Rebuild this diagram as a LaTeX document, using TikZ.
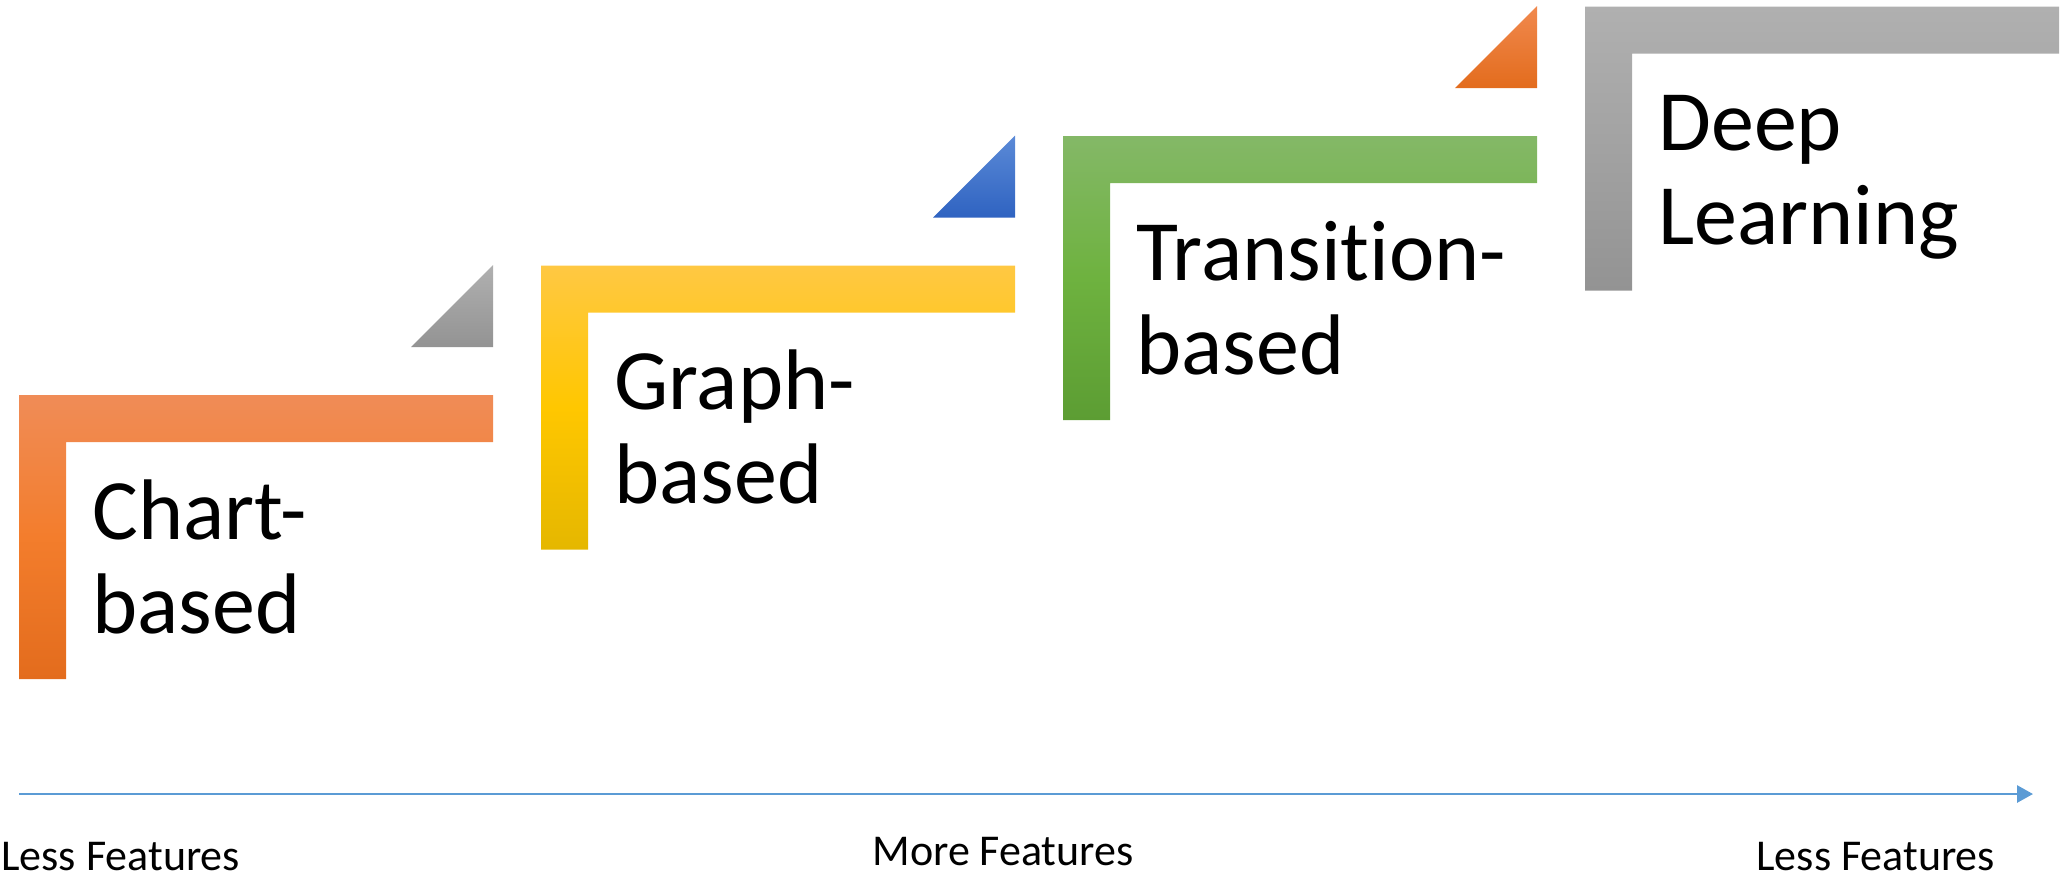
\documentclass[tikz,border=0pt]{standalone}
\usepackage{fontspec}
\setmainfont[Ligatures=NoCommon]{Carlito}
\usetikzlibrary{arrows.meta}

% fill gradients for the step frames and their corner flags
\definecolor{orTop}{HTML}{F08C57}
\definecolor{orMid}{HTML}{F37D2C}
\definecolor{orBot}{HTML}{E36C1D}
\definecolor{yeTop}{HTML}{FFC843}
\definecolor{yeMid}{HTML}{FFC700}
\definecolor{yeBot}{HTML}{E5B700}
\definecolor{grTop}{HTML}{84B867}
\definecolor{grMid}{HTML}{6EB23F}
\definecolor{grBot}{HTML}{5C9D33}
\definecolor{gyTop}{HTML}{B0B0B0}
\definecolor{gyMid}{HTML}{A2A2A2}
\definecolor{gyBot}{HTML}{939393}
\definecolor{blTop}{HTML}{5B8AD7}
\definecolor{blBot}{HTML}{2F63C1}
\definecolor{axisblue}{HTML}{5B9BD5}

% L-shaped step frame: #1,#2 = top-left corner, #3-#5 = top/middle/bottom colour
\newcommand\stepframe[5]{%
  \shade[top color=#3, bottom color=#5, middle color=#4]
    (#1,#2) -- ++(474,0) -- ++(0,47) -- ++(-427,0) -- ++(0,237) -- ++(-47,0) -- cycle;}
% right-angled flag above a frame's right end: #1,#2 = frame corner, #3/#4 = colours
\newcommand\stepflag[4]{%
  \shade[top color=#3, bottom color=#4]
    (#1+392,#2-48) -- ++(82,0) -- ++(0,-82) -- cycle;}

% two-line labels are placed by the baseline of their second line
\tikzset{
  steplabel/.style={anchor=base west, inner sep=0pt, align=left,
    font=\fontsize{43}{47}\selectfont},
  axislabel/.style={anchor=base west, inner sep=0pt,
    font=\fontsize{22}{26}\selectfont},
}

\begin{document}
\begin{tikzpicture}[x=0.5pt,y=-0.5pt]
\useasboundingbox (0,0) rectangle (2064,879);

% frames
\stepframe{19}{395}{orTop}{orMid}{orBot}
\stepframe{541}{265.5}{yeTop}{yeMid}{yeBot}
\stepframe{1063}{136}{grTop}{grMid}{grBot}
\stepframe{1585}{6.5}{gyTop}{gyMid}{gyBot}

% flags
\stepflag{19}{395}{gyTop}{gyBot}
\stepflag{541}{265.5}{blTop}{blBot}
\stepflag{1063}{136}{orTop!80!orMid}{orBot}

% frame labels
\node[steplabel] (chart) at (92,633) {Chart-\\based};
\node[steplabel] (graph) at (614,503.5) {Graph-\\based};
\node[steplabel] (transition) at (1136,374) {Transition-\\based};
\node[steplabel] (deep) at (1658,244.5) {Deep\\Learning};

% feature axis
\coordinate (axisstart) at (19,794);
\coordinate (axisend) at (2033,794);
\draw[axisblue, line width=1.4pt, -{Triangle[length=8pt,width=8.5pt]}] (axisstart) -- (axisend);

\node[axislabel] (lessleft) at (1,870) {Less Features};
\node[axislabel] (more) at (872,865) {More Features};
\node[axislabel] (lessright) at (1756,870) {Less Features};
\end{tikzpicture}
\end{document}
